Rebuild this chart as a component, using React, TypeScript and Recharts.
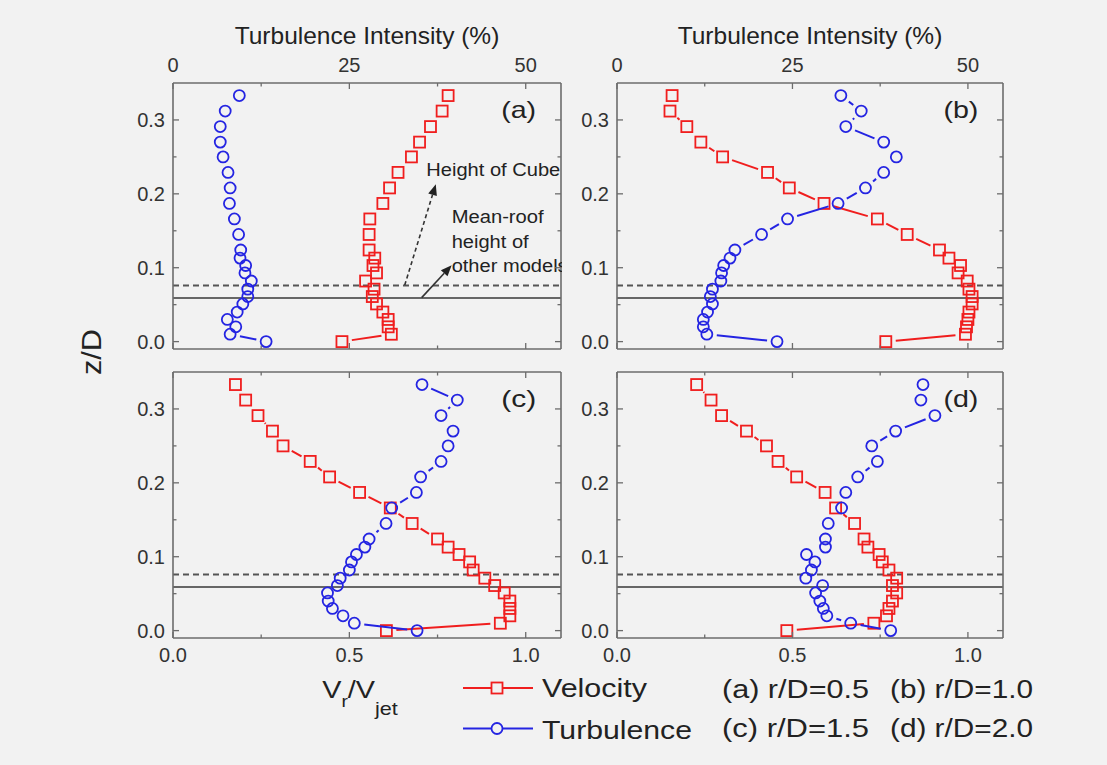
import React from 'react';
import { ScatterChart, Scatter, XAxis, YAxis, ReferenceLine, ReferenceDot } from 'recharts';

// measurement heights z/D, shared by every profile (bottom to top)
const Z_D = [0.0, 0.010, 0.020, 0.030, 0.040, 0.051, 0.061, 0.071, 0.082, 0.093, 0.103, 0.113, 0.124, 0.145, 0.166, 0.187, 0.208, 0.229, 0.250, 0.270, 0.291, 0.312, 0.333];

// Vr/Vjet (bottom axis)
const VEL_A = [0.479, 0.619, 0.610, 0.610, 0.595, 0.577, 0.565, 0.570, 0.546, 0.577, 0.567, 0.572, 0.556, 0.556, 0.558, 0.595, 0.614, 0.638, 0.676, 0.699, 0.730, 0.763, 0.780];
const VEL_B = [0.766, 0.993, 0.996, 1.000, 1.003, 1.012, 1.012, 1.003, 0.998, 0.972, 0.979, 0.946, 0.919, 0.827, 0.742, 0.590, 0.491, 0.429, 0.301, 0.239, 0.199, 0.151, 0.157];
const VEL_C = [0.605, 0.928, 0.955, 0.955, 0.955, 0.939, 0.912, 0.884, 0.851, 0.841, 0.811, 0.780, 0.750, 0.678, 0.616, 0.529, 0.444, 0.389, 0.312, 0.282, 0.241, 0.206, 0.177];
const VEL_D = [0.484, 0.732, 0.768, 0.775, 0.785, 0.797, 0.785, 0.797, 0.775, 0.756, 0.747, 0.715, 0.704, 0.677, 0.623, 0.593, 0.512, 0.459, 0.426, 0.369, 0.298, 0.268, 0.227];

// turbulence intensity % (top axis)
const TURB_A = [13.2, 8.1, 8.9, 7.7, 9.1, 9.9, 10.6, 10.6, 11.1, 10.2, 10.3, 9.5, 9.6, 9.3, 8.7, 8.0, 8.1, 7.8, 7.1, 6.7, 6.7, 7.4, 9.4];
const TURB_B = [22.8, 12.8, 12.3, 12.3, 12.9, 13.6, 13.3, 13.6, 14.8, 14.9, 15.2, 16.1, 16.8, 20.6, 24.3, 31.5, 35.4, 38.0, 39.8, 38.0, 32.6, 34.8, 31.9];
const TURB_C = [34.6, 25.7, 24.1, 22.6, 22.0, 21.9, 23.3, 23.7, 25.0, 25.3, 26.0, 27.2, 27.8, 30.2, 31.0, 34.5, 35.1, 38.0, 39.0, 39.7, 38.0, 40.3, 35.3];
const TURB_D = [39.0, 33.3, 29.9, 29.4, 28.9, 28.3, 29.3, 26.9, 27.7, 28.2, 27.0, 29.7, 29.7, 30.1, 32.0, 32.6, 34.3, 37.1, 36.3, 39.7, 45.3, 43.3, 43.6];

const CUBE_HEIGHT = 0.076;
const MEAN_ROOF = 0.059;

const Y_TICKS = [0, 0.05, 0.1, 0.15, 0.2, 0.25, 0.3];
const Y_MAJOR = [0, 0.1, 0.2, 0.3];
const V_TICKS = [0, 0.25, 0.5, 0.75, 1.0];
const V_MAJOR = [0, 0.5, 1.0];
const T_TICKS = [0, 12.5, 25, 37.5, 50];
const T_MAJOR = [0, 25, 50];

const BG = '#f2f2f2';
const RED = '#f01e1e';
const BLUE = '#2424e2';
const AXIS = '#6c6c6c';
const INK = '#222';
const FONT = '"Liberation Sans", Arial, Helvetica, sans-serif';

const toPoints = (vals: number[], key: string) => vals.map((v, i) => ({ [key]: v, z: Z_D[i] }));

// Origin style ticks: drawn inward, minor ticks shorter
const makeTick = (side: string, majors: number[], showLabel: boolean, fmt: (v: number) => string) => (props: any) => {
  const { x, y, payload } = props;
  const v = payload.value;
  const major = majors.some((m) => Math.abs(m - v) < 1e-9);
  const len = major ? 6 : 3.5;
  let line: number[] = [];
  let label = null;
  const tp = { fontFamily: FONT, fontSize: 20, fill: '#333' };
  if (side === 'left') {
    line = [x, y, x + len, y];
    if (showLabel && major) label = <text x={x - 8} y={y} dy="0.36em" textAnchor="end" {...tp}>{fmt(v)}</text>;
  } else if (side === 'right') {
    line = [x - len, y, x, y];
  } else if (side === 'top') {
    line = [x, y, x, y + len];
    if (showLabel && major) label = <text x={x} y={y - 11} textAnchor="middle" {...tp}>{fmt(v)}</text>;
  } else {
    line = [x, y - len, x, y];
    if (showLabel && major) label = <text x={x} y={y + 24} textAnchor="middle" {...tp}>{fmt(v)}</text>;
  }
  return (
    <g>
      <line x1={line[0]} y1={line[1]} x2={line[2]} y2={line[3]} stroke={AXIS} strokeWidth={1.3} />
      {label}
    </g>
  );
};

// connecting line with a gap around each symbol
const gapLine = (color: string, gap: number) => (props: any) => {
  const pts = props.points || [];
  const segs = [];
  for (let i = 1; i < pts.length; i++) {
    const a = pts[i - 1];
    const b = pts[i];
    const dx = b.x - a.x;
    const dy = b.y - a.y;
    const L = Math.hypot(dx, dy);
    if (L <= gap * 2 + 1) continue;
    const ux = dx / L;
    const uy = dy / L;
    segs.push(
      <line key={i} x1={a.x + ux * gap} y1={a.y + uy * gap} x2={b.x - ux * gap} y2={b.y - uy * gap} stroke={color} strokeWidth={2} />
    );
  }
  return <g>{segs}</g>;
};

const squareShape = (p: any) => (
  <rect x={p.cx - 5.5} y={p.cy - 5.5} width={11} height={11} fill="none" stroke={RED} strokeWidth={1.8} />
);
const circleShape = (p: any) => <circle cx={p.cx} cy={p.cy} r={5.5} fill="none" stroke={BLUE} strokeWidth={1.8} />;

const arrowShape = (dashed: boolean) => (p: any) => {
  const { x1, y1, x2, y2 } = p;
  const dx = x2 - x1;
  const dy = y2 - y1;
  const L = Math.hypot(dx, dy) || 1;
  const ux = dx / L;
  const uy = dy / L;
  const head = 11;
  const half = 4.5;
  const bx = x2 - ux * head;
  const by = y2 - uy * head;
  return (
    <g>
      <line x1={x1} y1={y1} x2={bx} y2={by} stroke="#333" strokeWidth={1.6} strokeDasharray={dashed ? '4 3' : undefined} />
      <polygon points={`${x2},${y2} ${bx - uy * half},${by + ux * half} ${bx + uy * half},${by - ux * half}`} fill={INK} />
    </g>
  );
};

const textShape = (lines: { t: string; w: number }[], size: number, step: number) => (p: any) => (
  <g>
    {lines.map((ln, i) => (
      <text key={i} x={p.cx} y={p.cy + i * step} fontFamily={FONT} fontSize={size} fill={INK} textLength={ln.w} lengthAdjust="spacingAndGlyphs">
        {ln.t}
      </text>
    ))}
  </g>
);

const letterShape = (t: string) => (p: any) => (
  <text x={p.cx} y={p.cy} textAnchor="middle" fontFamily={FONT} fontSize={24} fill={INK} textLength={35} lengthAdjust="spacingAndGlyphs">
    {t}
  </text>
);

const velLabel = (props: any) => {
  const vb = props.viewBox;
  const cx = vb.x + vb.width / 2 - 7;
  const y = vb.y + vb.height + 59;
  return (
    <text transform={`translate(${cx},${y}) scale(1.2,1)`} textAnchor="middle" fontFamily={FONT} fill={INK}>
      <tspan fontSize={24}>V</tspan>
      <tspan fontSize={16} dy={9}>r</tspan>
      <tspan fontSize={24} dy={-9}>/V</tspan>
      <tspan fontSize={18} dy={17}>jet</tspan>
    </text>
  );
};

type PanelProps = {
  vel: number[];
  turb: number[];
  letter: string;
  top: boolean;
  left: boolean;
};

function Panel({ vel, turb, letter, top, left }: PanelProps) {
  const width = left ? 562 : 545;
  const height = top ? 352 : 370;
  // each axis below takes 1px, margins are reduced to match
  const margin = {
    top: top ? 82 : 19,
    bottom: top ? 2 : 83,
    left: left ? 172 : 54,
    right: left ? 0 : 103,
  };
  const axisLine = { stroke: AXIS, strokeWidth: 1.6 };
  const common = { tickLine: false, tickSize: 0, tickMargin: 0, interval: 0 as const, axisLine, allowDataOverflow: true };
  const fmtV = (v: number) => v.toFixed(1);
  const fmtT = (v: number) => String(v);
  return (
    <ScatterChart width={width} height={height} margin={margin} style={{ position: 'absolute', left: left ? 0 : 562, top: top ? 0 : 352 }}>
      <XAxis
        xAxisId="v"
        type="number"
        dataKey="v"
        orientation="bottom"
        domain={[0, 1.1]}
        ticks={V_TICKS}
        height={1}
        tick={makeTick('bottom', V_MAJOR, !top, fmtV)}
        label={!top && left ? velLabel : undefined}
        {...common}
      />
      <XAxis
        xAxisId="t"
        type="number"
        dataKey="t"
        orientation="top"
        domain={[0, 55]}
        ticks={T_TICKS}
        height={1}
        tick={makeTick('top', T_MAJOR, top, fmtT)}
        label={
          top
            ? { value: 'Turbulence Intensity (%)', position: 'top', offset: 38, style: { fontFamily: FONT, fontSize: 24.5, fill: INK } }
            : undefined
        }
        {...common}
      />
      <YAxis
        yAxisId="l"
        type="number"
        dataKey="z"
        orientation="left"
        domain={[-0.01, 0.35]}
        ticks={Y_TICKS}
        width={1}
        tick={makeTick('left', Y_MAJOR, true, fmtV)}
        {...common}
      />
      <YAxis
        yAxisId="r"
        type="number"
        dataKey="z"
        orientation="right"
        domain={[-0.01, 0.35]}
        ticks={Y_TICKS}
        width={1}
        tick={makeTick('right', Y_MAJOR, false, fmtV)}
        {...common}
      />
      <ReferenceLine xAxisId="v" yAxisId="l" y={CUBE_HEIGHT} stroke="#555" strokeWidth={2} strokeDasharray="6 4" />
      <ReferenceLine xAxisId="v" yAxisId="l" y={MEAN_ROOF} stroke="#666" strokeWidth={2.2} />
      <ReferenceDot xAxisId="v" yAxisId="l" x={0.98} y={0.302} r={0} ifOverflow="visible" shape={letterShape(letter)} />
      {letter === '(a)' && (
        <>
          <ReferenceLine
            xAxisId="v"
            yAxisId="l"
            segment={[{ x: 0.657, y: 0.0765 }, { x: 0.745, y: 0.213 }]}
            ifOverflow="visible"
            shape={arrowShape(true)}
          />
          <ReferenceLine
            xAxisId="v"
            yAxisId="l"
            segment={[{ x: 0.705, y: 0.0595 }, { x: 0.79, y: 0.1035 }]}
            ifOverflow="visible"
            shape={arrowShape(false)}
          />
          <ReferenceDot
            xAxisId="v"
            yAxisId="l"
            x={0.718}
            y={0.224}
            r={0}
            ifOverflow="visible"
            shape={textShape([{ t: 'Height of Cube', w: 134 }], 17.5, 0)}
          />
          <ReferenceDot
            xAxisId="v"
            yAxisId="l"
            x={0.79}
            y={0.160}
            r={0}
            ifOverflow="visible"
            shape={textShape(
              [
                { t: 'Mean-roof', w: 92 },
                { t: 'height of', w: 77 },
                { t: 'other models', w: 116 },
              ],
              17.5,
              24.5
            )}
          />
        </>
      )}
      <Scatter
        name="Velocity"
        xAxisId="v"
        yAxisId="l"
        data={toPoints(vel, 'v')}
        fill={RED}
        shape={squareShape}
        line={gapLine(RED, 10)}
        isAnimationActive={false}
      />
      <Scatter
        name="Turbulence"
        xAxisId="t"
        yAxisId="r"
        data={toPoints(turb, 't')}
        fill={BLUE}
        shape={circleShape}
        line={gapLine(BLUE, 10)}
        isAnimationActive={false}
      />
    </ScatterChart>
  );
}

export default function App() {
  const lt = { fontFamily: FONT, fontSize: 25, fill: INK, lengthAdjust: 'spacingAndGlyphs' as const };
  return (
    <div style={{ position: 'absolute', left: 0, top: 0, width: 1107, height: 765, background: BG, overflow: 'hidden' }}>
      <Panel vel={VEL_A} turb={TURB_A} letter="(a)" top left />
      <Panel vel={VEL_B} turb={TURB_B} letter="(b)" top left={false} />
      <Panel vel={VEL_C} turb={TURB_C} letter="(c)" top={false} left />
      <Panel vel={VEL_D} turb={TURB_D} letter="(d)" top={false} left={false} />
      <svg width={1107} height={765} style={{ position: 'absolute', left: 0, top: 0, pointerEvents: 'none' }}>
        <text transform="translate(101,352) rotate(-90)" textAnchor="middle" fontFamily={FONT} fontSize={28} fill={INK} textLength={46} lengthAdjust="spacingAndGlyphs">
          z/D
        </text>
        <line x1={463} y1={688} x2={533} y2={688} stroke={RED} strokeWidth={2.2} />
        <rect x={491.5} y={682.5} width={11} height={11} fill={BG} stroke={RED} strokeWidth={1.8} />
        <text x={542} y={697} textLength={105} {...lt}>Velocity</text>
        <line x1={463} y1={728.5} x2={533} y2={728.5} stroke={BLUE} strokeWidth={2.2} />
        <circle cx={497} cy={728.5} r={5.5} fill={BG} stroke={BLUE} strokeWidth={1.8} />
        <text x={542} y={739} textLength={150} {...lt}>Turbulence</text>
        <text x={722} y={698} textLength={147} {...lt}>(a) r/D=0.5</text>
        <text x={890} y={698} textLength={143} {...lt}>(b) r/D=1.0</text>
        <text x={722} y={737} textLength={147} {...lt}>(c) r/D=1.5</text>
        <text x={890} y={737} textLength={143} {...lt}>(d) r/D=2.0</text>
      </svg>
    </div>
  );
}
